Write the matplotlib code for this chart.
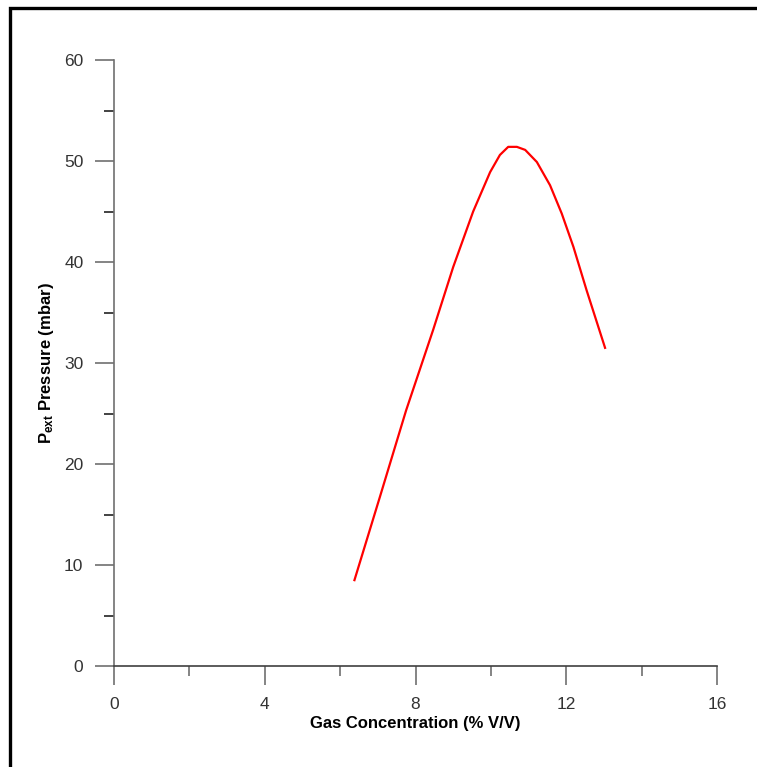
import numpy as np
import matplotlib
matplotlib.use("Agg")
import matplotlib.pyplot as plt
from matplotlib.patches import Rectangle
from matplotlib.ticker import MultipleLocator

plt.rcParams['font.family'] = ['Liberation Sans', 'DejaVu Sans']
plt.rcParams['mathtext.default'] = 'regular'

# Curve
conc = [6.38, 7.06, 7.75, 8.47, 9.0, 9.53, 9.98, 10.24, 10.46, 10.69,
        10.91, 11.22, 11.57, 11.88, 12.19, 12.54, 13.03]
pressure = [8.5, 16.8, 25.3, 33.3, 39.5, 45.0, 48.9, 50.6, 51.4, 51.4,
            51.1, 49.9, 47.6, 44.8, 41.5, 37.2, 31.5]

fig = plt.figure(figsize=(7.57, 7.67), dpi=100)
ax = fig.add_axes([114 / 757, 101 / 767, 603 / 757, 606 / 767])

ax.plot(conc, pressure, color='red', lw=1.6)

ax.set_xlim(0, 16)
ax.set_ylim(0, 60)
ax.xaxis.set_major_locator(MultipleLocator(4))
ax.xaxis.set_minor_locator(MultipleLocator(2))
ax.yaxis.set_major_locator(MultipleLocator(10))
ax.yaxis.set_minor_locator(MultipleLocator(5))

for s in ['top', 'right']:
    ax.spines[s].set_visible(False)
ax.spines['left'].set_color('#707070')
ax.spines['bottom'].set_color('#404040')
ax.spines['left'].set_linewidth(1.2)
ax.spines['bottom'].set_linewidth(1.2)

ax.tick_params(axis='y', which='major', length=14, width=1.2, color='#707070',
               labelsize=12.5, labelcolor='#333333', pad=8)
ax.tick_params(axis='y', which='minor', length=7, width=1.2, color='#222222')
ax.tick_params(axis='x', which='major', length=14, width=1.2, color='#707070',
               labelsize=12.5, labelcolor='#333333', pad=8)
ax.tick_params(axis='x', which='minor', length=7, width=1.2, color='#707070')

ax.set_xlabel('Gas Concentration (% V/V)', fontsize=12, fontweight='bold', labelpad=3)
ax.set_ylabel('P$_{ext}$ Pressure (mbar)', fontsize=12, fontweight='bold', labelpad=6)

# black frame (cropped on right/bottom in the original)
fig.patches.append(Rectangle((10 / 757, -0.1), 1.2, 1.1 - 8 / 767,
                             transform=fig.transFigure, fill=False,
                             edgecolor='black', lw=2.4))

fig.savefig('out.png', dpi=100)
